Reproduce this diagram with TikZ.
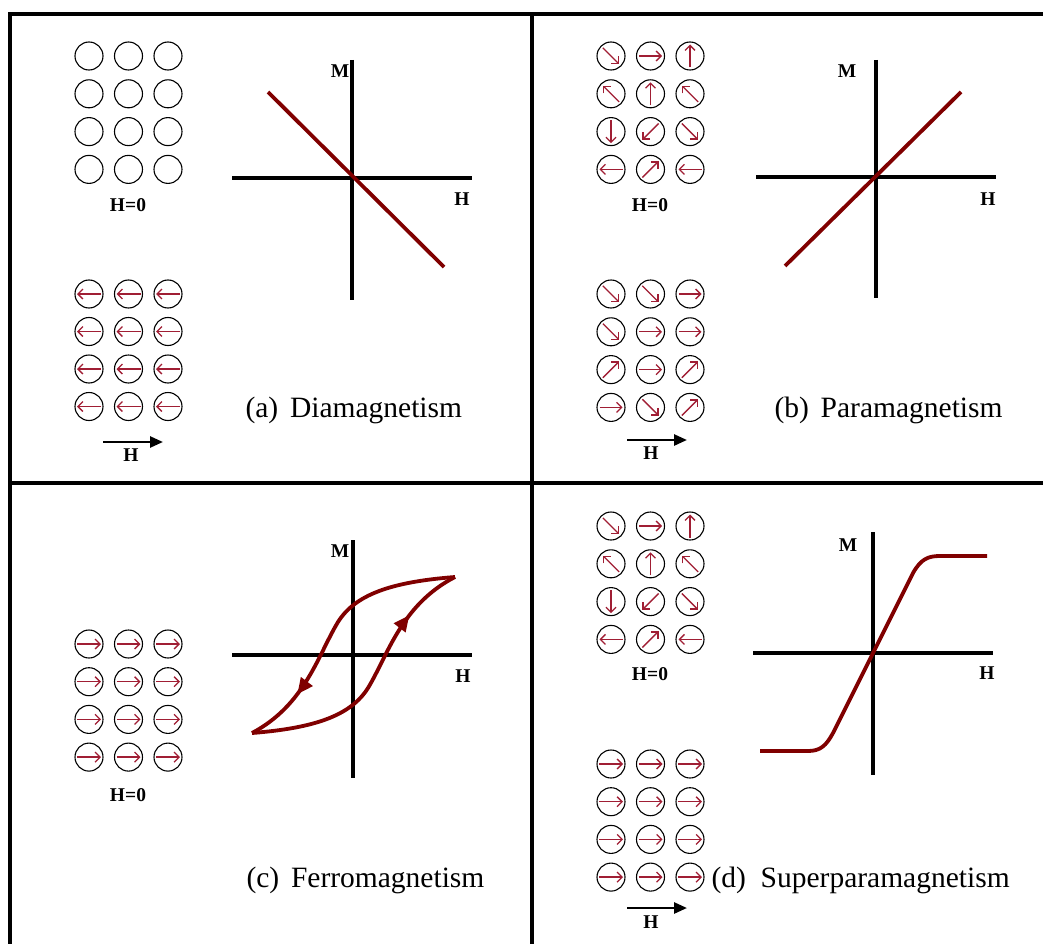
\documentclass[tikz,border=0pt]{standalone}
\usepackage{fontspec}
\setmainfont{Liberation Serif}
\usetikzlibrary{arrows.meta,decorations.markings}
\definecolor{sc}{RGB}{160,30,52}
\definecolor{cc}{RGB}{128,0,0}
\tikzset{mom/.style={draw,circle,minimum size=28pt,inner sep=0pt,line width=1.1pt},
 spin/.style={draw=sc,line width=1.3pt,-{Straight Barb[length=5pt,width=10pt]}},
 axis/.style={line width=3.5pt},crv/.style={draw=cc,line width=3.8pt},
 frame/.style={line width=4.5pt},
 fld/.style={line width=2.6pt,-{Triangle[length=13pt,width=11pt]}},
 lab/.style={font=\fontsize{19.5}{22}\selectfont\bfseries},
 capt/.style={anchor=west,font=\fontsize{29.5}{34}\selectfont},
 midtip/.style={postaction={decorate,decoration={markings,
   mark=at position #1 with {\arrow[cc]{Triangle[length=16pt,width=14pt]}}}}}}
\begin{document}
\begin{tikzpicture}[x=1pt,y=-1pt]
\useasboundingbox (0,0) rectangle (1043,944);
\draw[frame] (1043,14) -| (10,944);
\draw[frame] (532,14) -- (532,944);\draw[frame] (10,483) -- (1043,483);
% spins
\foreach \row in {0,...,3}\foreach \col in {0,1,2}{
 \node[mom] (a\row\col) at (89+39.5*\col,56+37.8*\row) {};
 \node[mom] (f\row\col) at (89+39.5*\col,294+37.5*\row) {};
 \draw[spin] ([shift={(0:12pt)}]f\row\col.center) -- ([shift={(180:12pt)}]f\row\col.center);
 \node[mom] (c\row\col) at (89+39.5*\col,644+37.7*\row) {};
 \draw[spin] ([shift={(180:12pt)}]c\row\col.center) -- ([shift={(0:12pt)}]c\row\col.center);
 \node[mom] (s\row\col) at (611+39.5*\col,764+37.7*\row) {};
 \draw[spin] ([shift={(180:12pt)}]s\row\col.center) -- ([shift={(0:12pt)}]s\row\col.center);}
\foreach \px/\py/\nm/\lst in {611/56/b/{-45,0,90,135,90,135,-90,-135,-45,180,45,180},
  611/526/d/{-45,0,90,135,90,135,-90,-135,-45,180,45,180},
  611/294/p/{-45,-45,0,-45,0,0,45,0,45,0,-45,45}}{
 \foreach \a [count=\i from 0] in \lst{
  \pgfmathtruncatemacro\row{\i/3}\pgfmathtruncatemacro\col{mod(\i,3)}
  \node[mom] (\nm\i) at (\px+39.5*\col,\py+37.8*\row) {};
  \draw[spin] ([shift={(\a+180:11.5pt)}]\nm\i.center) -- ([shift={(\a:11.5pt)}]\nm\i.center);}}
% (a)
\draw[axis] (352,60) -- (352,300);\draw[axis] (232,178) -- (472,178);
\node[lab] (ma) at (340,71) {M};\node[lab] (ha) at (462,199) {H};
\draw[crv] (268,92) -- (444,267);
\node[lab] (za) at (128,205) {H=0};
\draw[fld] (103,442) -- (163,442);\node[lab] (fa) at (131,455) {H};
\node[capt] (ta) at (242,410) {(a)\hspace{.4em}Diamagnetism};
% (b)
\draw[axis] (876,60) -- (876,298);\draw[axis] (756,177) -- (996,177);
\node[lab] (mb) at (847,71) {M};\node[lab] (hb) at (988,199) {H};
\draw[crv] (785,266) -- (961,92);
\node[lab] (zb) at (650,205) {H=0};
\draw[fld] (627,440) -- (687,440);\node[lab] (fb) at (651,453) {H};
\node[capt] (tb) at (771,410) {(b)\hspace{.4em}Paramagnetism};
% (c)
\draw[axis] (353,540) -- (353,778);\draw[axis] (232,655) -- (472,655);
\node[lab] (mc) at (340,551) {M};\node[lab] (hc) at (463,676) {H};
\coordinate (tr) at (455,577);\coordinate (bl) at (252,733);
\draw[crv,midtip=.78] (tr) .. controls (390,582) and (355,595) .. (338,622)
  .. controls (318,655) and (305,705) .. (bl);
\draw[crv,midtip=.78] (bl) .. controls (316,728) and (351,715) .. (368,688)
  .. controls (388,655) and (401,605) .. (tr);
\node[lab] (zc) at (128,795) {H=0};
\node[capt] (tc) at (243,880) {(c)\hspace{.4em}Ferromagnetism};
% (d)
\draw[axis] (873,532) -- (873,775);\draw[axis] (753,653) -- (993,653);
\node[lab] (md) at (848,545) {M};\node[lab] (hd) at (987,673) {H};
\draw[crv] (760,751) -- (808,751) .. controls (820,751) and (826,746) .. (833,733)
  -- (913,573) .. controls (921,559) and (928,556) .. (940,556) -- (987,556);
\node[lab] (zd) at (650,674) {H=0};
\draw[fld] (627,908) -- (687,908);\node[lab] (fd) at (651,922) {H};
\node[capt] (td) at (708,880) {(d)\hspace{.5em}Superparamagnetism};
\end{tikzpicture}
\end{document}
